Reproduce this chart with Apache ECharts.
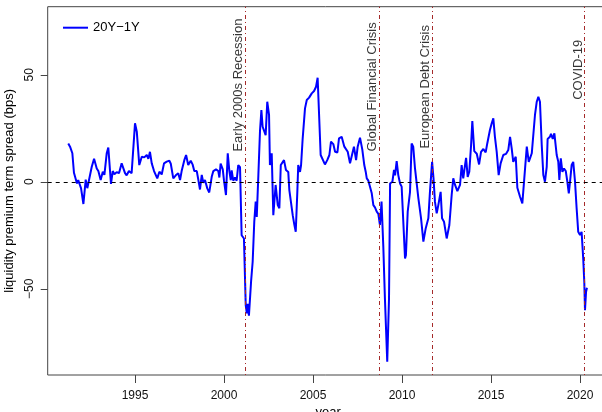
<!DOCTYPE html>
<html>
<head>
<meta charset="utf-8">
<script src="https://cdn.jsdelivr.net/npm/echarts@6/dist/echarts.min.js"></script>
<style>
html,body{margin:0;padding:0;background:#fff;}
#chart{width:602px;height:412px;}
</style>
</head>
<body>
<div id="chart"></div>
<script>
// ---- data ----
const years = [
1991.25,1991.35,1991.48,1991.57,1991.67,1991.74,1991.81,1991.91,1991.97,1992.10,
1992.23,1992.32,1992.43,1992.57,1992.70,1992.85,1992.94,1993.07,1993.19,1993.28,
1993.41,1993.50,1993.65,1993.75,1993.84,1993.97,1994.10,1994.25,1994.44,1994.53,
1994.66,1994.81,1995.00,1995.10,1995.24,1995.38,1995.52,1995.66,1995.75,1995.84,
1995.94,1996.07,1996.16,1996.25,1996.37,1996.50,1996.63,1996.78,1996.93,1997.01,
1997.15,1997.29,1997.43,1997.53,1997.62,1997.77,1997.87,1997.99,1998.13,1998.24,
1998.33,1998.47,1998.56,1998.65,1998.75,1998.84,1998.93,1999.06,1999.17,1999.31,
1999.40,1999.55,1999.68,1999.74,1999.81,1999.93,2000.00,2000.11,2000.21,2000.30,
2000.38,2000.43,2000.52,2000.62,2000.71,2000.80,2000.90,2000.99,2001.12,2001.22,
2001.28,2001.33,2001.40,2001.52,2001.61,2001.70,2001.78,2001.84,2001.93,2002.02,
2002.10,2002.17,2002.26,2002.34,2002.43,2002.53,2002.58,2002.68,2002.77,2002.90,
2003.02,2003.11,2003.19,2003.30,2003.37,2003.48,2003.61,2003.67,2003.76,2003.86,
2003.95,2004.03,2004.12,2004.17,2004.27,2004.33,2004.42,2004.55,2004.65,2004.78,
2004.87,2004.93,2005.06,2005.17,2005.26,2005.43,2005.54,2005.67,2005.80,2005.92,
2006.01,2006.14,2006.24,2006.37,2006.46,2006.61,2006.76,2006.85,2006.95,2007.08,
2007.17,2007.30,2007.42,2007.51,2007.64,2007.77,2007.88,2007.96,2008.02,2008.11,
2008.20,2008.30,2008.39,2008.48,2008.58,2008.67,2008.76,2008.85,2008.95,2009.04,
2009.17,2009.27,2009.33,2009.46,2009.55,2009.61,2009.70,2009.79,2009.89,2009.98,
2010.07,2010.17,2010.22,2010.32,2010.45,2010.54,2010.63,2010.73,2010.83,2010.92,
2011.07,2011.20,2011.33,2011.48,2011.57,2011.69,2011.77,2011.85,2011.95,2012.04,
2012.17,2012.25,2012.36,2012.51,2012.66,2012.79,2012.88,2012.98,2013.11,2013.26,
2013.35,2013.44,2013.54,2013.60,2013.69,2013.78,2013.88,2013.95,2014.06,2014.20,
2014.33,2014.44,2014.57,2014.70,2014.79,2014.94,2015.04,2015.13,2015.22,2015.32,
2015.43,2015.54,2015.69,2015.84,2015.97,2016.07,2016.16,2016.25,2016.39,2016.48,
2016.63,2016.76,2016.87,2017.01,2017.12,2017.19,2017.29,2017.38,2017.47,2017.57,
2017.66,2017.75,2017.85,2017.94,2018.03,2018.13,2018.18,2018.31,2018.37,2018.47,
2018.56,2018.63,2018.69,2018.78,2018.84,2018.92,2019.01,2019.10,2019.20,2019.29,
2019.37,2019.44,2019.53,2019.62,2019.72,2019.81,2019.90,2020.00,2020.09,2020.18,
2020.24,2020.28,2020.34,2020.39
];
const spread = [
17.9,16.4,13.3,4.2,3.8,-0.8,0.8,1.3,-3.1,-10.4,
1.0,-3.0,-3.0,7.0,10.7,6.2,5.0,0.8,4.7,3.2,
13.3,16.0,-1.0,5.0,3.5,4.5,4.0,8.6,4.0,3.0,
5.0,4.0,27.3,23.4,7.8,11.7,11.4,12.5,10.7,14.0,
8.6,5.0,5.8,1.6,4.7,3.4,8.6,9.4,9.8,8.4,
1.6,3.0,4.0,0.8,5.0,10.1,12.5,7.8,9.8,8.0,
5.0,5.0,0.8,-3.6,3.2,-0.5,0.8,-3.1,-5.0,2.3,
5.0,5.8,5.0,2.0,8.5,5.8,0.5,-6.2,13.3,5.0,
0.8,5.3,0.5,2.0,0.5,7.8,6.8,-25.0,-26.5,-57.6,
-61.5,-57.0,-62.6,-46.7,-37.4,-18.7,-9.3,-16.4,3.1,23.4,
33.5,25.7,25.7,21.8,37.4,31.2,7.8,13.3,-15.6,-1.5,
-10.9,-12.4,7.8,8.6,10.1,5.5,4.6,-3.9,-4.5,-15.6,
-20.0,-23.4,-4.5,7.8,4.6,7.8,20.3,34.3,38.2,39.3,
38.8,41.3,42.4,44.4,48.6,12.5,12.8,8.1,10.1,12.5,
18.7,17.6,14.0,13.7,20.3,21.0,16.4,17.0,14.0,8.6,
8.6,16.4,10.1,16.4,20.6,15.0,7.8,4.7,1.6,0.5,
0.0,-5.4,-10.9,-12.0,-14.0,-15.0,-20.2,-9.3,-30.4,-54.5,
-84.1,-54.5,-0.8,0.0,5.5,3.0,9.7,3.1,-0.8,-2.3,
-3.0,-35.8,-34.3,-14.0,-4.7,17.9,16.4,6.2,5.5,-7.8,
-17.1,-28.0,-21.8,-17.1,-4.7,9.3,1.6,-9.3,-14.8,-10.9,
-4.7,-17.1,-18.7,-26.5,-20.2,-6.2,1.6,-1.5,-4.4,-1.5,
7.8,1.6,7.8,11.2,2.3,4.7,17.1,28.4,14.3,13.1,
8.1,14.0,15.3,13.7,17.9,24.2,27.3,29.6,21.0,14.0,
3.1,8.6,12.5,13.0,14.8,21.0,15.7,9.3,11.7,-2.8,
-7.0,-10.1,1.6,16.4,9.3,10.9,13.3,13.3,31.2,37.4,
39.7,37.4,17.1,3.1,0.0,7.0,20.0,21.0,22.4,20.0,
22.6,23.1,12.5,9.3,0.8,10.9,4.6,6.2,5.0,0.0,
-5.4,0.0,7.8,9.3,0.0,-12.4,-23.4,-24.9,-23.4,-35.8,
-46.7,-60.0,-51.4,-49.5
];
const seriesName = '20Y\u22121Y';
const eventYears = [2001.18, 2008.73, 2011.70, 2020.25];
const eventNames = ['Early 2000s Recession', 'Global Financial Crisis', 'European Debt Crisis', 'COVID-19'];
const eventLabelValue = [14.8, 14.8, 16.2, 39];
const xTicks = [1995, 2000, 2005, 2010, 2015, 2020];
const yTicks = [-50, 0, 50];

const FONT = '"Liberation Sans", Arial, Helvetica, sans-serif';
const chart = echarts.init(document.getElementById('chart'), null, {renderer: 'canvas'});

const lineData = years.map((y, i) => [y, spread[i]]);
const eventMarks = eventYears.map(y => ({
  xAxis: y,
  lineStyle: {color: '#A52A2A', type: [1, 3, 4, 3], width: 1}
}));
eventMarks.push({yAxis: 0, lineStyle: {color: '#000', type: [4, 4], width: 1}});

const option = {
  animation: false,
  backgroundColor: '#fff',
  textStyle: {fontFamily: FONT},
  grid: {
    left: 47.7, top: 6.7, width: 561, height: 368.3,
    show: true, borderColor: '#444', borderWidth: 1, backgroundColor: 'transparent',
    containLabel: false,
    outerBoundsMode: 'none'
  },
  legend: {
    data: [seriesName],
    left: 58, top: 15.7,
    icon: 'rect', itemWidth: 25, itemHeight: 2,
    textStyle: {fontFamily: FONT, fontSize: 13, color: '#000', lineHeight: 14},
    itemStyle: {color: '#0000FF'}
  },
  xAxis: {
    type: 'value',
    min: 1990.095, max: 1990.095 + 561 / 17.8,
    name: 'year', nameLocation: 'middle', nameGap: 27,
    nameTextStyle: {fontFamily: FONT, fontSize: 13, color: '#000'},
    axisLine: {show: false, onZero: false},
    axisTick: {show: true, inside: false, length: 8, customValues: xTicks, lineStyle: {color: '#444', width: 1}},
    axisLabel: {customValues: xTicks, fontFamily: FONT, fontSize: 12, color: '#111', margin: 14.5,
      formatter: v => String(v)},
    splitLine: {show: false}
  },
  yAxis: {
    type: 'value',
    min: -90.3, max: 81.8,
    name: 'liquidity premium term spread (bps)', nameLocation: 'middle', nameGap: 26,
    nameTextStyle: {fontFamily: FONT, fontSize: 13, color: '#000'},
    axisLine: {show: false, onZero: false},
    axisTick: {show: true, inside: false, length: 7, customValues: yTicks, lineStyle: {color: '#444', width: 1}},
    axisLabel: {customValues: yTicks, rotate: 90, fontFamily: FONT, fontSize: 12, color: '#111', margin: 12,
      formatter: v => (v < 0 ? '\u2212' + Math.abs(v) : String(v))},
    splitLine: {show: false}
  },
  series: [
    {
      name: seriesName,
      type: 'line',
      data: lineData,
      showSymbol: false,
      symbol: 'none',
      lineStyle: {color: '#0000FF', width: 2},
      itemStyle: {color: '#0000FF'},
      z: 2
    },
    {
      name: 'events',
      type: 'line',
      data: [],
      z: 3,
      markLine: {
        silent: true,
        symbol: ['none', 'none'],
        label: {show: false},
        animation: false,
        data: eventMarks
      }
    },
    {
      name: 'eventLabels',
      type: 'scatter',
      symbolSize: 0,
      z: 4,
      silent: true,
      data: eventYears.map((y, i) => ({value: [y, eventLabelValue[i]], name: eventNames[i]})),
      label: {
        show: true,
        position: [0, 0],
        offset: [-1.5, 0],
        rotate: 90,
        align: 'left',
        verticalAlign: 'bottom',
        fontFamily: FONT,
        fontSize: 13,
        color: '#000',
        formatter: p => p.name
      }
    }
  ]
};
chart.setOption(option);
</script>
</body>
</html>
